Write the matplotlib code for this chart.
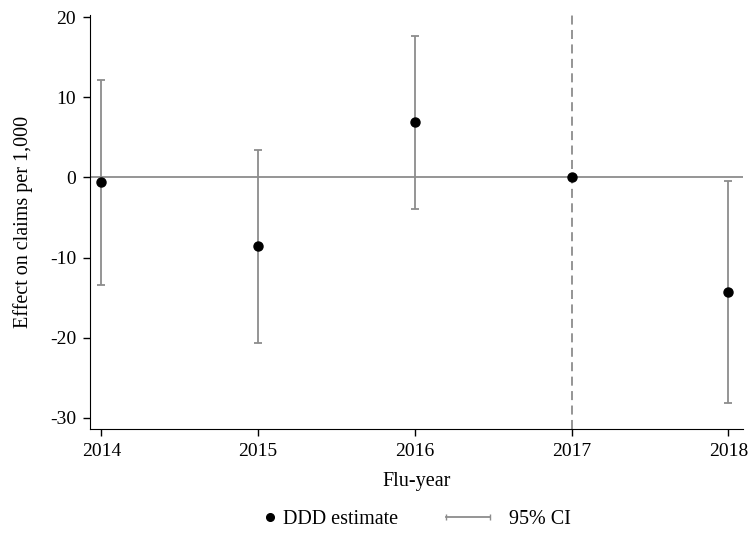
import matplotlib.pyplot as plt
from matplotlib.lines import Line2D
from matplotlib.legend_handler import HandlerLine2D

plt.rcParams['font.family'] = 'Liberation Serif'
plt.rcParams['font.size'] = 14.5
plt.rcParams['axes.unicode_minus'] = False

years = [2014, 2015, 2016, 2017, 2018]
estimate = [-0.6, -8.55, 6.9, 0.0, -14.3]
ci_low = [-13.4, -20.7, -3.9, 0.0, -28.1]
ci_high = [12.2, 3.45, 17.7, 0.0, -0.5]
event_year = 2017

grey = '#8c8c8c'

fig = plt.figure(figsize=(7.49, 5.33), dpi=100)
ax = fig.add_axes([0.1202, 0.1951, 0.872, 0.777])

ax.axhline(0, color=grey, linewidth=1.3, zorder=1)
ax.axvline(event_year, color=grey, linewidth=1.3, linestyle=(0, (5, 3)), zorder=1)

for yr, e, lo, hi in zip(years, estimate, ci_low, ci_high):
    if hi > lo:
        ax.errorbar(yr, e, yerr=[[e - lo], [hi - e]], fmt='none', ecolor=grey,
                    elinewidth=1.3, capsize=3, capthick=1.3, zorder=2)
ax.plot(years, estimate, 'o', color='black', markersize=6.5, zorder=3)

ax.set_xlim(2013.927, 2018.095)
ax.set_ylim(-31.4, 20.3)
ax.set_xticks(years)
ax.set_yticks([-30, -20, -10, 0, 10, 20])
ax.set_xlabel('Flu-year', labelpad=9)
ax.set_ylabel('Effect on claims per 1,000', labelpad=12)
ax.spines['top'].set_visible(False)
ax.spines['right'].set_visible(False)
ax.tick_params(direction='out', length=5, width=1, labelsize=14, pad=5)

# legend entries laid out side by side below the axes
h_est = Line2D([], [], linestyle='none', marker='o', color='black', markersize=5.5)
h_ci = Line2D([], [], color=grey, linewidth=1.3, marker='|', markersize=5)
fig.legend([h_est], ['DDD estimate'], loc='center left',
           bbox_to_anchor=(262 / 749, 0.026), frameon=False, borderpad=0,
           borderaxespad=0, handlelength=0.8, handletextpad=0.22)
fig.legend([h_ci], ['95% CI'], loc='center left',
           bbox_to_anchor=(440 / 749, 0.026), frameon=False, borderpad=0,
           borderaxespad=0, handlelength=2.78, handletextpad=0.65,
           handler_map={h_ci: HandlerLine2D(numpoints=2)})

fig.savefig('out.png', dpi=100)
